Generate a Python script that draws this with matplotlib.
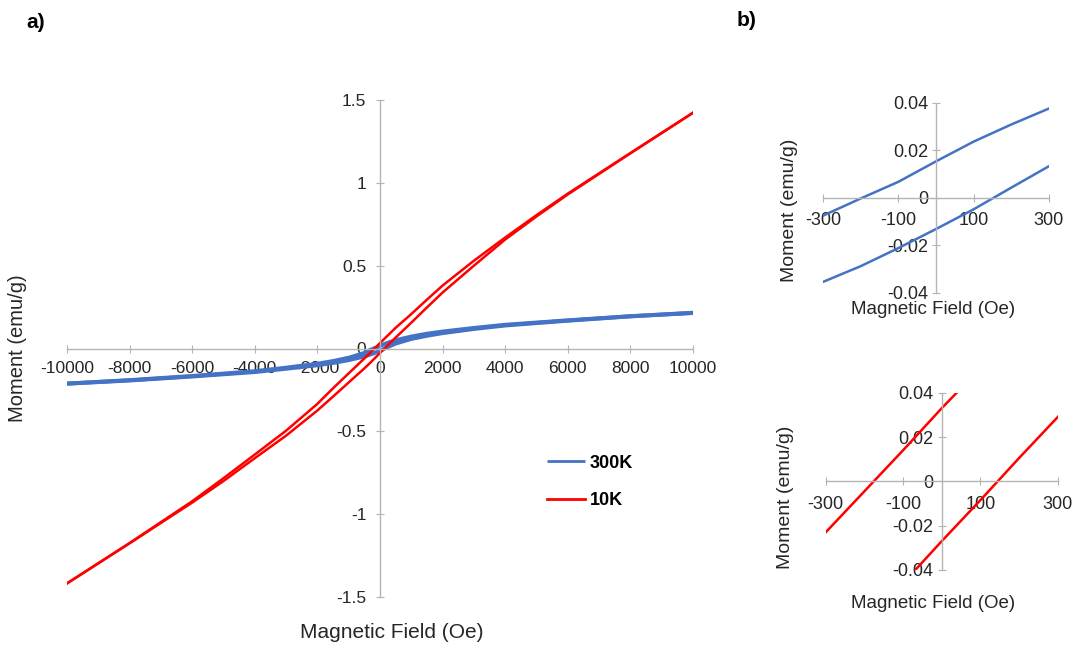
import matplotlib
matplotlib.use("Agg")
import matplotlib.pyplot as plt

plt.rcParams['font.family'] = ['Liberation Sans', 'DejaVu Sans']

# 300K loop: descending branch (from +10000) and ascending branch (from -10000)
h_300_down = [10000, 8000, 6000, 4000, 3000, 2000, 1500, 1000, 500, 300, 200, 100, 0,
              -100, -200, -300, -500, -1000, -1500, -2000, -3000, -4000, -6000, -8000, -10000]
m_300_down = [0.215, 0.195, 0.170, 0.143, 0.124, 0.102, 0.089, 0.072, 0.050, 0.0375, 0.0308, 0.0236, 0.0153,
              0.0067, -0.0003, -0.0075, -0.027, -0.056, -0.076, -0.092, -0.116, -0.137, -0.166, -0.191, -0.212]
h_300_up = [-10000, -8000, -6000, -4000, -3000, -2000, -1500, -1000, -500, -300, -200, -100, 0,
            100, 200, 300, 500, 1000, 1500, 2000, 3000, 4000, 6000, 8000, 10000]
m_300_up = [-0.212, -0.193, -0.169, -0.142, -0.122, -0.101, -0.087, -0.070, -0.048, -0.0354, -0.0288, -0.0212, -0.0132,
            -0.0049, 0.0042, 0.0132, 0.030, 0.058, 0.077, 0.093, 0.118, 0.139, 0.168, 0.194, 0.215]

# 10K loop
h_10_down = [10000, 8000, 6000, 5000, 4000, 3000, 2000, 1500, 1000, 500, 300, 200, 100, 0,
             -100, -200, -300, -500, -1000, -1500, -2000, -3000, -4000, -5000, -6000, -8000, -10000]
m_10_down = [1.423, 1.18, 0.935, 0.805, 0.67, 0.53, 0.38, 0.295, 0.208, 0.125, 0.088, 0.070, 0.051, 0.033,
             0.014, -0.0045, -0.023, -0.06, -0.15, -0.24, -0.334, -0.496, -0.64, -0.783, -0.922, -1.174, -1.418]
h_10_up = [-10000, -8000, -6000, -5000, -4000, -3000, -2000, -1500, -1000, -500, -300, -200, -100, 0,
           100, 200, 300, 500, 1000, 1500, 2000, 3000, 4000, 5000, 6000, 8000, 10000]
m_10_up = [-1.418, -1.176, -0.93, -0.80, -0.662, -0.526, -0.374, -0.29, -0.205, -0.12, -0.084, -0.065, -0.046, -0.027,
           -0.0085, 0.0105, 0.029, 0.066, 0.156, 0.248, 0.338, 0.50, 0.658, 0.797, 0.93, 1.178, 1.423]

main_xticks = list(range(-10000, 10001, 2000))
main_yticks = [-1.5, -1, -0.5, 0, 0.5, 1, 1.5]
main_ylabels = ["-1.5", "-1", "-0.5", "0", "0.5", "1", "1.5"]
inset_xticks = [-300, -100, 100, 300]
inset_yticks = [-0.04, -0.02, 0, 0.02, 0.04]
inset_ylabels = ["-0.04", "-0.02", "0", "0.02", "0.04"]

BLUE = '#4472C4'
RED = '#FF0000'
AXC = '#b4b4b4'
TXT = '#262626'
W, H = 1076, 645


def px(x, y):
    return x / W, 1 - y / H


def style_axes(ax, fs, xpad, ypad):
    for s in ['top', 'right']:
        ax.spines[s].set_visible(False)
    for s in ['left', 'bottom']:
        ax.spines[s].set_position(('data', 0))
        ax.spines[s].set_color(AXC)
        ax.spines[s].set_linewidth(1.0)
    ax.tick_params(axis='both', direction='inout', length=5.5, width=0.8,
                   color=AXC, labelcolor=TXT, labelsize=fs)
    ax.tick_params(axis='x', pad=xpad)
    ax.tick_params(axis='y', pad=ypad)
    ax.patch.set_visible(False)


fig = plt.figure(figsize=(10.76, 6.45), dpi=100)

# main panel a)
ax = fig.add_axes([67 / W, 48 / H, 626 / W, 497 / H])
ax.plot(h_300_down, m_300_down, color=BLUE, lw=2.9, solid_capstyle='butt', label='300K')
ax.plot(h_300_up, m_300_up, color=BLUE, lw=2.9, solid_capstyle='butt')
ax.plot(h_10_down, m_10_down, color=RED, lw=1.8, label='10K')
ax.plot(h_10_up, m_10_up, color=RED, lw=1.8)
ax.set_xlim(-10000, 10000)
ax.set_ylim(-1.5, 1.5)
ax.set_xticks(main_xticks)
ax.set_xticklabels([str(v) for v in main_xticks])
ax.set_yticks(main_yticks)
ax.set_yticklabels(main_ylabels)
style_axes(ax, 12.5, 6.5, 7)

leg = ax.legend(loc='center left', bbox_to_anchor=(538 / W, 1 - 482 / H),
                bbox_transform=fig.transFigure, frameon=False, borderpad=0,
                handlelength=2.1, handletextpad=0.25, labelspacing=1.15,
                prop={'weight': 'bold', 'size': 13})
for ln in leg.get_lines():
    ln.set_linewidth(2.0)

fig.text(*px(18, 348), "Moment (emu/g)", rotation=90, ha='center', va='center',
         fontsize=14.5, color=TXT)
fig.text(*px(392, 632), "Magnetic Field (Oe)", ha='center', va='center',
         fontsize=15, color=TXT)

# inset b) top: 300K
ax1 = fig.add_axes([823.3 / W, (H - 292.7) / H, 225.4 / W, 190 / H])
ax1.plot(h_300_down, m_300_down, color=BLUE, lw=1.8)
ax1.plot(h_300_up, m_300_up, color=BLUE, lw=1.8)
ax1.set_xlim(-300, 300)
ax1.set_ylim(-0.04, 0.04)
ax1.set_xticks(inset_xticks)
ax1.set_xticklabels([str(v) for v in inset_xticks])
ax1.set_yticks(inset_yticks)
ax1.set_yticklabels(inset_ylabels)
style_axes(ax1, 13, 7.5, 3)
fig.text(*px(789, 210), "Moment (emu/g)", rotation=90, ha='center', va='center',
         fontsize=14, color=TXT)
fig.text(*px(933, 310), "Magnetic Field (Oe)", ha='center', va='center',
         fontsize=13.5, color=TXT)

# inset b) bottom: 10K
ax2 = fig.add_axes([825.7 / W, (H - 570) / H, 232 / W, 177.3 / H])
ax2.plot(h_10_down, m_10_down, color=RED, lw=1.8)
ax2.plot(h_10_up, m_10_up, color=RED, lw=1.8)
ax2.set_xlim(-300, 300)
ax2.set_ylim(-0.04, 0.04)
ax2.set_xticks(inset_xticks)
ax2.set_xticklabels([str(v) for v in inset_xticks])
ax2.set_yticks(inset_yticks)
ax2.set_yticklabels(inset_ylabels)
style_axes(ax2, 13, 7.5, 3)
fig.text(*px(786, 497), "Moment (emu/g)", rotation=90, ha='center', va='center',
         fontsize=14, color=TXT)
fig.text(*px(933, 603), "Magnetic Field (Oe)", ha='center', va='center',
         fontsize=13.5, color=TXT)

fig.text(*px(36, 22), "a)", ha='center', va='center', fontsize=15, fontweight='bold')
fig.text(*px(747, 21), "b)", ha='center', va='center', fontsize=15, fontweight='bold')

fig.savefig("out.png", dpi=100)
